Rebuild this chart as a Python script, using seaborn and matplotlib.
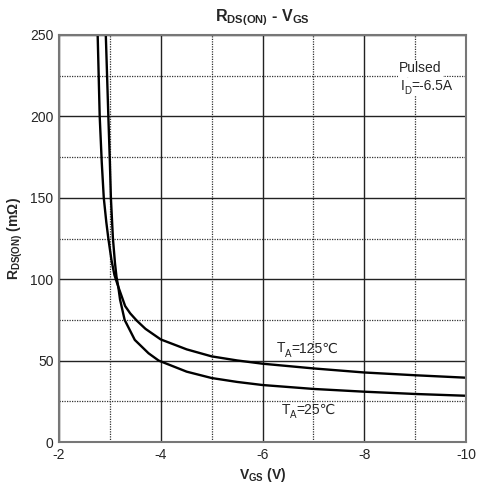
import numpy as np
import pandas as pd
import matplotlib
matplotlib.use("Agg")
import matplotlib.pyplot as plt
import matplotlib.transforms as mtransforms
import seaborn as sns
from matplotlib.ticker import MultipleLocator

# Data
vgs_125 = [-2.76, -2.80, -2.84, -2.88, -2.93, -2.97, -3.03, -3.09, -3.165, -3.30, -3.40, -3.53, -3.70, -4.00, -4.51, -5.0, -5.5, -6.0, -7.0, -8.0, -9.0, -10.0]
rds_125 = [250, 200, 172, 150, 135, 125, 112, 102.5, 95.4, 83.5, 79.0, 74.5, 69.5, 63.0, 56.9, 52.6, 50.1, 48.1, 45.2, 42.7, 41.0, 39.5]
vgs_25 = [-2.92, -2.97, -3.00, -3.02, -3.06, -3.10, -3.13, -3.165, -3.20, -3.29, -3.49, -3.76, -3.96, -4.51, -5.0, -5.5, -6.0, -7.0, -8.0, -9.0, -10.0]
rds_25 = [250, 200, 172, 150, 125, 110, 101.5, 95.4, 87.5, 75, 62.7, 54.5, 50.0, 43.2, 39.3, 36.9, 35.0, 32.6, 30.9, 29.5, 28.4]

x_ticks = [-2, -4, -6, -8, -10]
y_ticks = [0, 50, 100, 150, 200, 250]

df = pd.concat([
    pd.DataFrame({"VGS": vgs_125, "RDS": rds_125, "T": "125"}),
    pd.DataFrame({"VGS": vgs_25, "RDS": rds_25, "T": "25"}),
])

sns.set_style("white")
plt.rcParams["font.family"] = ["Liberation Sans", "DejaVu Sans"]
plt.rcParams["mathtext.fontset"] = "custom"
plt.rcParams["mathtext.rm"] = "Liberation Sans"
plt.rcParams["mathtext.bf"] = "Liberation Sans:bold"
plt.rcParams["mathtext.it"] = "Liberation Sans:italic"
plt.rcParams["axes.unicode_minus"] = False

fig = plt.figure(figsize=(4.79, 4.88), dpi=100)
ax = fig.add_axes([59/479, 46/488, 407/479, 407/488])

sns.lineplot(data=df, x="VGS", y="RDS", units="T", estimator=None, sort=False,
             color="black", linewidth=1.7, ax=ax, legend=False)

ax.set_xlim(-2, -10)
ax.set_ylim(0, 250)
ax.set_xticks(x_ticks)
ax.set_xticklabels([str(t) for t in x_ticks])
ax.set_yticks(y_ticks)
ax.set_yticklabels([str(t) for t in y_ticks])
ax.xaxis.set_minor_locator(MultipleLocator(1))
ax.yaxis.set_minor_locator(MultipleLocator(25))
ax.grid(which="major", color="#222222", linestyle="-", linewidth=1.0)
ax.grid(which="minor", color="#333333", linestyle=(0, (1, 1)), linewidth=0.9)
ax.set_axisbelow(True)
ax.tick_params(which="both", length=0, labelsize=10, pad=4)
for s in ax.spines.values():
    s.set_color("#777777")
    s.set_linewidth(1.5)

ax.set_xlabel(r"$\mathbf{V_{GS}}$ (V)", fontsize=10, fontweight="bold", labelpad=3)
ax.set_ylabel(r"$\mathbf{R_{DS(ON)}}$ (m$\mathbf{\Omega}$)", fontsize=10, fontweight="bold", labelpad=4)
ax.set_title(r"$\mathbf{R_{DS(ON)}}$ - $\mathbf{V_{GS}}$", fontsize=11.5, fontweight="bold", pad=10)

renderer = fig.canvas.get_renderer()


def chain_text(x, y, parts, bg=False):
    """Draw plain-text pieces one after another on a common baseline.
    parts: list of (text, fontsize, baseline shift in points)."""
    dx = 0.0
    for txt, fs, dy in parts:
        tr = mtransforms.offset_copy(ax.transData, fig=fig, x=dx, y=dy, units="points")
        t = ax.text(x, y, txt, fontsize=fs, va="baseline", ha="left",
                    transform=tr, zorder=6)
        if bg:
            # white box drawn underneath all text pieces
            ax.text(x, y, txt, fontsize=fs, va="baseline", ha="left",
                    transform=tr, color=(0, 0, 0, 0), zorder=5,
                    bbox=dict(facecolor="white", edgecolor="none", pad=1.5))
        w = t.get_window_extent(renderer).width * 72.0 / fig.dpi
        dx += w


chain_text(-6.28, 55.0, [("T", 10, 0), ("A", 7, -3), ("=125℃", 10, 0)])
chain_text(-6.38, 17.3, [("T", 10, 0), ("A", 7, -3), ("=25℃", 10, 0)])
ax.text(-9.1, 229.5, "Pulsed", fontsize=10, va="center", ha="center", zorder=6,
        bbox=dict(facecolor="white", edgecolor="none", pad=1))
chain_text(-8.71, 216.3, [("I", 10, 0), ("D", 7, -3), ("=-6.5A", 10, 0)], bg=True)

fig.savefig("out.png", dpi=100)
